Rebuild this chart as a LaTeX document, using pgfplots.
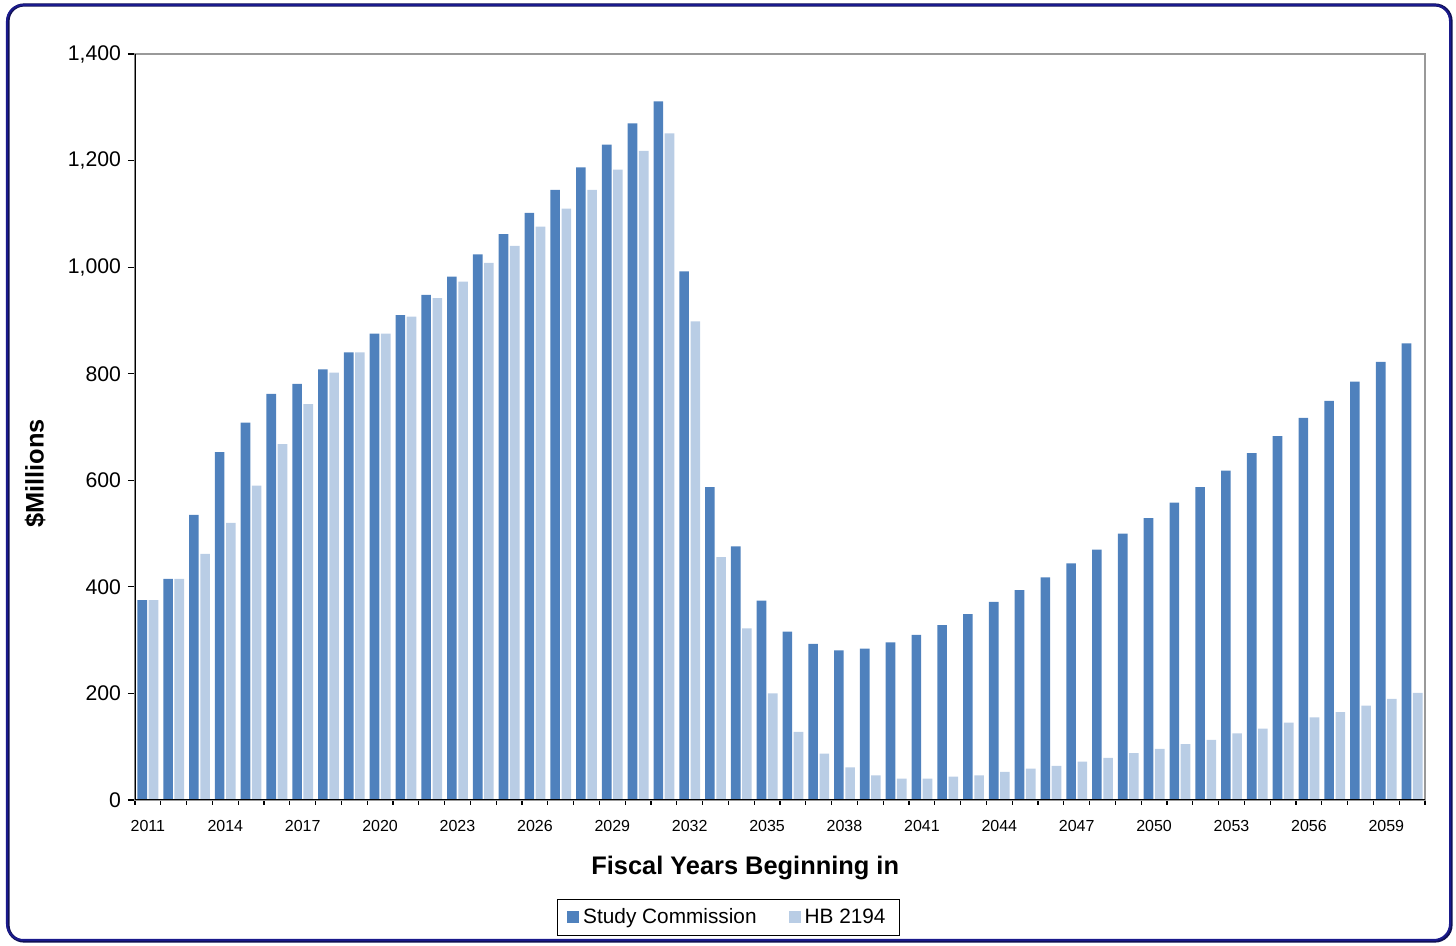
\documentclass[border=0pt]{standalone}
\usepackage{pgfplots}
\pgfplotsset{compat=1.18}
\usepackage{pgfplotstable}
\usepackage{fontspec}
\setmainfont{Liberation Sans}

\definecolor{darkbar}{HTML}{4F81BD}
\definecolor{lightbar}{HTML}{B9CDE5}
\definecolor{framenavy}{HTML}{1A1A8C}

% year index (0 = 2011), Study Commission, HB 2194
\pgfplotstableread{
idx sc hb
0 375 375
1 415 415
2 535 462
3 653 520
4 708 590
5 762 668
6 781 743
7 808 802
8 840 840
9 875 875
10 910 907
11 948 942
12 982 973
13 1024 1008
14 1062 1040
15 1102 1076
16 1145 1110
17 1187 1145
18 1230 1183
19 1270 1218
20 1311 1251
21 992 898
22 587 456
23 476 322
24 374 200
25 316 128
26 293 87
27 281 61
28 284 46
29 296 40
30 310 40
31 328 44
32 349 46
33 372 53
34 394 59
35 418 64
36 444 72
37 470 79
38 500 88
39 529 96
40 558 105
41 587 113
42 618 125
43 651 134
44 683 145
45 717 155
46 749 165
47 785 177
48 822 190
49 857 201
}\costs

\begin{document}
\begin{tikzpicture}
% outer rounded frame
\draw[framenavy!60!black, line width=1.6pt, rounded corners=8pt] (-63.5pt,-70.5pt) rectangle (658pt,397.5pt);
\draw[framenavy, line width=1pt, rounded corners=8pt] (-64pt,-70pt) rectangle (657.5pt,397.5pt);
\begin{axis}[
    scale only axis,
    width=645pt, height=373pt,
    ybar=0.8pt,
    bar width=4.8pt,
    xmin=-0.5, xmax=49.5,
    ymin=0, ymax=1400,
    xtick={0,3,...,48},
    xticklabels={2011,2014,2017,2020,2023,2026,2029,2032,2035,2038,2041,2044,2047,2050,2053,2056,2059},
    minor xtick={-0.5,0.5,...,49.5},
    major x tick style={draw=none},
    minor tick length=2.5pt,
    major tick length=3.5pt,
    ytick={0,200,...,1400},
    tick align=outside,
    tick pos=left,
    tick style={black, line width=0.6pt},
    axis line style={draw=gray!80, line width=0.6pt},
    /pgf/number format/.cd, 1000 sep={,}, assume math mode=true,
    /pgfplots/.cd,
    yticklabel style={font=\fontsize{10.6}{12}\selectfont},
    xticklabel style={font=\fontsize{8}{10}\selectfont, yshift=-3pt},
    xlabel={Fiscal Years Beginning in},
    xlabel style={font=\fontsize{12.7}{14}\selectfont\bfseries, at={(axis description cs:0.473,-0.0912)}, anchor=center},
    ylabel={\$Millions},
    ylabel style={font=\fontsize{12.7}{14}\selectfont\bfseries, at={(axis description cs:-0.0775,0.438)}, anchor=center},
    legend columns=2,
    legend style={at={(axis description cs:0.460,-0.1575)}, anchor=center,
        draw=black, line width=0.6pt, font=\fontsize{10.4}{12}\selectfont,
        inner xsep=5pt, inner ysep=2.5pt,
        /tikz/every even column/.append style={column sep=14pt}},
    legend image code/.code={\fill[#1] (0pt,-3pt) rectangle (6pt,3pt);},
]
\addplot[fill=darkbar, draw=none] table[x=idx, y=sc] {\costs};
\addplot[fill=lightbar, draw=none] table[x=idx, y=hb] {\costs};
\legend{Study Commission, HB 2194}
\draw[black, line width=0.6pt] (rel axis cs:0,1) -- (rel axis cs:0,0) -- (rel axis cs:1,0);
\end{axis}
\pgfresetboundingbox
\path (-67.5pt,-73pt) rectangle (660.5pt,400pt);
\end{tikzpicture}
\end{document}
